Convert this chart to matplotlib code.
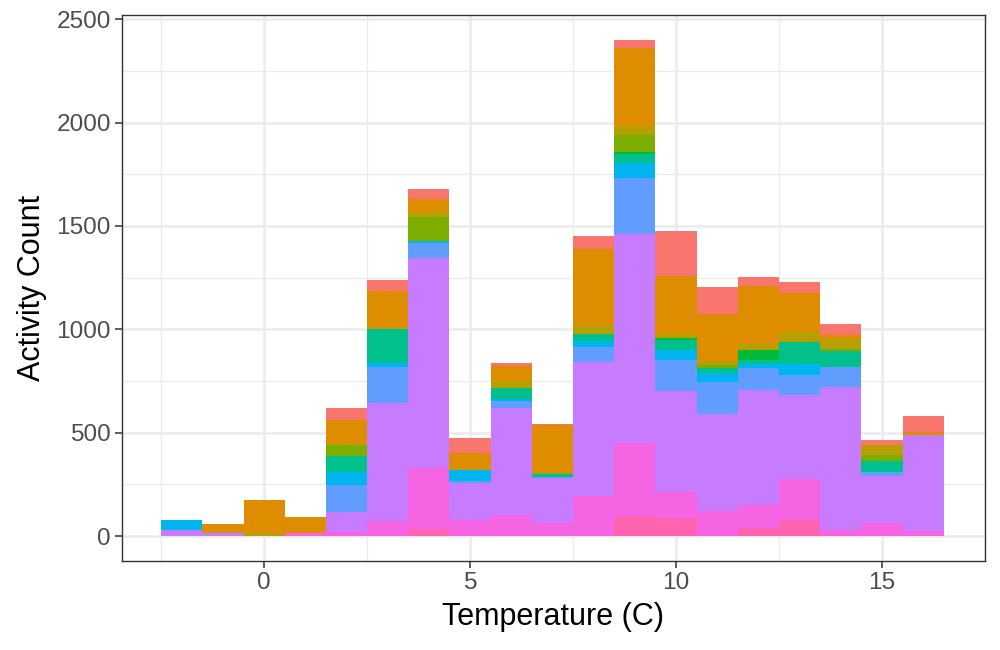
import matplotlib
matplotlib.use("Agg")
import matplotlib.pyplot as plt
import numpy as np

plt.rcParams['font.family'] = ['Liberation Sans', 'DejaVu Sans']

temps = list(range(-2, 17))  # bin centres, width 1

# series in ggplot level order (level 1 drawn on top of the stack)
levels = ["1", "2", "3", "4", "5", "6", "7", "8", "9", "10", "11", "12"]
colors = ["#F8766D", "#DE8C00", "#B79F00", "#7CAE00", "#00BA38", "#00C08B",
          "#00BFC4", "#00B4F0", "#619CFF", "#C77CFF", "#F564E3", "#FF64B0"]

s1 = [0, 0, 0, 0, 58, 53, 48, 73, 11, 3, 63, 39, 218, 131, 39, 53, 53, 24, 77]
s2 = [0, 44, 160, 77, 116, 177, 63, 73, 77, 227, 368, 377, 280, 227, 285, 193, 19, 0, 15]
s3 = [0, 0, 15, 0, 6, 6, 24, 5, 32, 10, 44, 44, 19, 19, 29, 48, 48, 48, 0]
s4 = [0, 0, 0, 0, 52, 0, 118, 0, 0, 0, 0, 82, 0, 15, 0, 0, 11, 29, 0]
s5 = [0, 0, 0, 0, 0, 0, 0, 0, 0, 0, 0, 10, 10, 0, 48, 0, 0, 0, 0]
s6 = [0, 0, 0, 0, 77, 164, 0, 0, 53, 15, 34, 44, 48, 24, 19, 106, 76, 53, 0]
s7 = [0] * 19
s8 = [48, 0, 0, 0, 63, 19, 8, 56, 10, 0, 29, 73, 48, 44, 19, 53, 2, 0, 0]
s9 = [0, 0, 0, 0, 131, 174, 73, 10, 34, 5, 73, 271, 150, 155, 106, 97, 97, 19, 0]
s10 = [29, 15, 0, 0, 97, 571, 1016, 179, 517, 218, 648, 1011, 488, 469, 556, 406, 692, 227, 464]
s11 = [0, 0, 0, 15, 19, 73, 295, 77, 102, 63, 193, 353, 126, 121, 111, 198, 29, 63, 24]
s12 = [0, 0, 0, 0, 0, 0, 34, 0, 0, 0, 0, 97, 87, 0, 39, 77, 0, 0, 0]

series = [s1, s2, s3, s4, s5, s6, s7, s8, s9, s10, s11, s12]

fig = plt.figure(figsize=(10, 6.5), dpi=100)
ax = fig.add_axes([0.122, 1 - 561 / 650, 0.863, (561 - 15) / 650])

bottom = np.zeros(len(temps))
for name, col, vals in reversed(list(zip(levels, colors, series))):
    v = np.array(vals, dtype=float)
    ax.bar(temps, v, width=1.0, bottom=bottom, color=col, linewidth=0,
           label=name, zorder=3)
    bottom += v

ax.set_xlim(-3.45, 17.45)
ax.set_ylim(-120, 2520)
ax.set_xticks([0, 5, 10, 15])
ax.set_yticks([0, 500, 1000, 1500, 2000, 2500])
ax.set_xticks([-2.5, 2.5, 7.5, 12.5, 17.5], minor=True)
ax.set_yticks([250, 750, 1250, 1750, 2250], minor=True)

ax.grid(which='major', color='#EBEBEB', linewidth=1.8, zorder=0)
ax.grid(which='minor', color='#EBEBEB', linewidth=0.9, zorder=0)
ax.set_axisbelow(True)

for sp in ax.spines.values():
    sp.set_color('#333333')
    sp.set_linewidth(1.0)

ax.tick_params(which='major', length=5.0, width=1.1, color='#333333',
               labelsize=17.6, labelcolor='#4D4D4D', pad=3)
ax.tick_params(which='minor', length=0)

ax.set_xlabel('Temperature (C)', fontsize=22, color='black', labelpad=6)
ax.set_ylabel('Activity Count', fontsize=22, color='black', labelpad=7)

fig.savefig('out.png', dpi=100, facecolor='white')
